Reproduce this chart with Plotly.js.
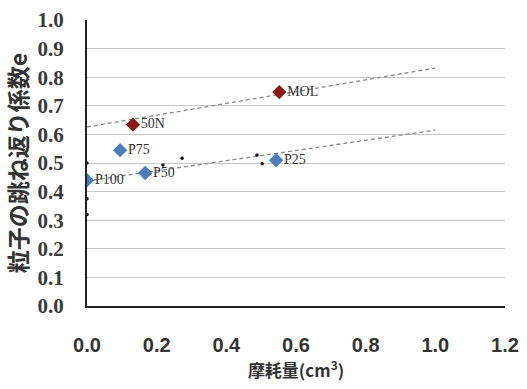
<!DOCTYPE html>
<html><head><meta charset="utf-8">
<script src="https://cdn.plot.ly/plotly-3.0.1.min.js"></script>
<style>html,body{margin:0;padding:0;background:#fff}</style>
</head><body>
<div id="chart" style="width:527px;height:389px"></div>
<script>
// Red series (diamonds)
const redLabels = ["50N", "MOL"];
const redX = [0.132, 0.552];
const redY = [0.634, 0.748];
// Blue series (diamonds)
const blueLabels = ["P100", "P75", "P50", "P25"];
const blueX = [0.0, 0.095, 0.167, 0.543];
const blueY = [0.44, 0.545, 0.465, 0.51];
// Individual measurement dots
const dotX = [0.0, 0.0, 0.0, 0.218, 0.273, 0.488, 0.503];
const dotY = [0.5, 0.375, 0.32, 0.493, 0.517, 0.528, 0.497];
// Trend lines
const trendX = [0.0, 1.0];
const upperTrendY = [0.626, 0.832];
const lowerTrendY = [0.437, 0.615];
// Axis ticks
const yTicks = [0,0.1,0.2,0.3,0.4,0.5,0.6,0.7,0.8,0.9,1.0];
const xTicks = [0,0.2,0.4,0.6,0.8,1.0,1.2];

const labelFont = {family: "'Liberation Serif', 'Times New Roman', serif", size: 14, color: "#333"};
const traces = [
  {x: trendX, y: upperTrendY, mode: "lines", line: {color: "#888", width: 1.3, dash: "4px,3px"}, hoverinfo: "skip"},
  {x: trendX, y: lowerTrendY, mode: "lines", line: {color: "#888", width: 1.3, dash: "4px,3px"}, hoverinfo: "skip"},
  {x: dotX, y: dotY, mode: "markers", marker: {color: "#111", size: 3.5}},
  {x: redX, y: redY, mode: "markers+text", text: redLabels, textposition: "middle right",
   textfont: labelFont, marker: {symbol: "diamond", color: "#8b1a1a", size: 11}},
  {x: blueX, y: blueY, mode: "markers+text", text: blueLabels, textposition: "middle right",
   textfont: labelFont, marker: {symbol: "diamond", color: "#4a7ebb", size: 11}}
];

const layout = {
  width: 527, height: 389,
  margin: {l: 87, r: 22, t: 20, b: 83},
  showlegend: false,
  paper_bgcolor: "#fff", plot_bgcolor: "#fff",
  xaxis: {
    range: [0, 1.2], tickvals: xTicks, ticktext: xTicks.map(v => v.toFixed(1)),
    showgrid: false, zeroline: false, showline: true, linecolor: "#222", linewidth: 2,
    ticks: "", ticklabelstandoff: 20,
    tickfont: {family: "'Liberation Sans Narrow', 'Arial Narrow', sans-serif", size: 20, color: "#333", weight: "bold"},
    title: {text: "摩耗量(cm<sup>3</sup>)", standoff: 10,
      font: {family: "'Noto Sans CJK JP', sans-serif", size: 17, color: "#333", weight: "bold"}}
  },
  yaxis: {
    range: [0, 1.0], tickvals: yTicks, ticktext: yTicks.map(v => v.toFixed(1)),
    showgrid: true, gridcolor: "#c8c8c8", gridwidth: 1,
    zeroline: false, showline: true, linecolor: "#222", linewidth: 2,
    ticks: "", ticklabelstandoff: 17,
    tickfont: {family: "'Liberation Serif', 'Times New Roman', serif", size: 21, color: "#3a3a3a", weight: "bold"},
    title: {text: "粒子の跳ね返り係数e", standoff: 4,
      font: {family: "'Noto Sans CJK JP', sans-serif", size: 23, color: "#333", weight: "bold"}}
  }
};
Plotly.newPlot("chart", traces, layout, {displayModeBar: false, staticPlot: true});
</script>
</body></html>
